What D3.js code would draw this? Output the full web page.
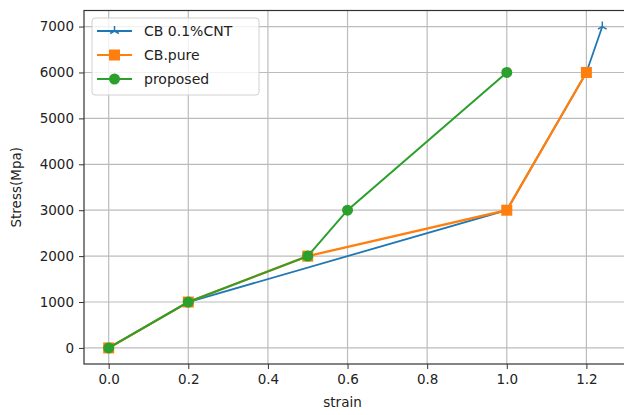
<!DOCTYPE html>
<html><head><meta charset="utf-8">
<script src="https://cdn.jsdelivr.net/npm/d3@7"></script>
<style>body{margin:0;background:#fff}svg{display:block}text{font-family:"DejaVu Sans",sans-serif}</style>
</head><body><svg id="c" width="624" height="415"></svg>
<script>
const seriesNames = ["CB 0.1%CNT", "CB.pure", "proposed"];
const seriesColors = ["#1f77b4", "#ff7f0e", "#2ca02c"];
const cntStrain = [0.0, 0.2, 1.0, 1.2, 1.24];
const cntStress = [0, 1000, 3000, 6000, 7000];
const pureStrain = [0.0, 0.2, 0.5, 1.0, 1.2];
const pureStress = [0, 1000, 2000, 3000, 6000];
const propStrain = [0.0, 0.2, 0.5, 0.6, 1.0];
const propStress = [0, 1000, 2000, 3000, 6000];
const xTicks = [0.0, 0.2, 0.4, 0.6, 0.8, 1.0, 1.2];
const yTicks = [0, 1000, 2000, 3000, 4000, 5000, 6000, 7000];

const svg = d3.select("#c");
const L = 84, R = 627, T = 10.5, B = 364;
const x = d3.scaleLinear().domain([-0.062, 1.302]).range([L, R]);
const y = d3.scaleLinear().domain([-350, 7350]).range([B, T]);

// grid
svg.append("g").selectAll("line").data(xTicks).join("line")
  .attr("x1", d => x(d)).attr("x2", d => x(d)).attr("y1", T).attr("y2", B)
  .attr("stroke", "#bcbcbc").attr("stroke-width", 1.2);
svg.append("g").selectAll("line").data(yTicks).join("line")
  .attr("x1", L).attr("x2", R).attr("y1", d => y(d)).attr("y2", d => y(d))
  .attr("stroke", "#bcbcbc").attr("stroke-width", 1.2);

// axes
const xa = svg.append("g").attr("transform", `translate(0,${B})`)
  .call(d3.axisBottom(x).tickValues(xTicks).tickFormat(d3.format(".1f")).tickSize(5).tickPadding(5));
const ya = svg.append("g").attr("transform", `translate(${L},0)`)
  .call(d3.axisLeft(y).tickValues(yTicks).tickFormat(d3.format("d")).tickSize(5).tickPadding(5));
[xa, ya].forEach(a => {
  a.select(".domain").remove();
  a.selectAll("line").attr("stroke", "#333");
  a.selectAll("text").attr("font-size", 13.5).attr("fill", "#222").attr("font-family", "DejaVu Sans");
});
// spines
svg.append("rect").attr("x", L).attr("y", T).attr("width", R - L).attr("height", B - T)
  .attr("fill", "none").attr("stroke", "#333").attr("stroke-width", 1.2);

svg.append("text").attr("x", (L + R) / 2 - 13).attr("y", 407).attr("text-anchor", "middle")
  .attr("font-size", 13.5).attr("fill", "#222").text("strain");
svg.append("text").attr("transform", `translate(21,${(T + B) / 2}) rotate(-90)`).attr("text-anchor", "middle")
  .attr("font-size", 13.5).attr("fill", "#222").text("Stress(Mpa)");

const series = [
  {xs: cntStrain, ys: cntStress, marker: "tri", w: 1.8},
  {xs: pureStrain, ys: pureStress, marker: "square", w: 2.3},
  {xs: propStrain, ys: propStress, marker: "circle", w: 2}
];
const line = d3.line();
function drawMarker(g, type, color, cx, cy) {
  if (type === "square") {
    g.append("rect").attr("x", cx - 5.5).attr("y", cy - 5.5).attr("width", 11).attr("height", 11).attr("fill", color);
  } else if (type === "circle") {
    g.append("circle").attr("cx", cx).attr("cy", cy).attr("r", 5.5).attr("fill", color);
  } else {
    const r = 5;
    [[0, -r], [-r * 0.87, r * 0.5], [r * 0.87, r * 0.5]].forEach(([dx, dy]) =>
      g.append("line").attr("x1", cx).attr("y1", cy).attr("x2", cx + dx).attr("y2", cy + dy)
        .attr("stroke", color).attr("stroke-width", 1.5));
  }
}
series.forEach((s, i) => {
  const pts = s.xs.map((v, k) => [x(v), y(s.ys[k])]);
  const g = svg.append("g");
  g.append("path").attr("d", line(pts)).attr("fill", "none").attr("stroke", seriesColors[i]).attr("stroke-width", s.w);
  pts.forEach(p => drawMarker(g, s.marker, seriesColors[i], p[0], p[1]));
});

// legend
const lg = svg.append("g");
lg.append("rect").attr("x", 92).attr("y", 18).attr("width", 167).attr("height", 77).attr("rx", 3)
  .attr("fill", "rgba(255,255,255,0.8)").attr("stroke", "#d0d0d0");
seriesNames.forEach((n, i) => {
  const yy = 31 + i * 24;
  lg.append("line").attr("x1", 97).attr("x2", 132).attr("y1", yy).attr("y2", yy)
    .attr("stroke", seriesColors[i]).attr("stroke-width", 2);
  drawMarker(lg, series[i].marker, seriesColors[i], 114.5, yy);
  lg.append("text").attr("x", 144).attr("y", yy + 5).attr("font-size", 14).attr("fill", "#222").text(n);
});
</script></body></html>
